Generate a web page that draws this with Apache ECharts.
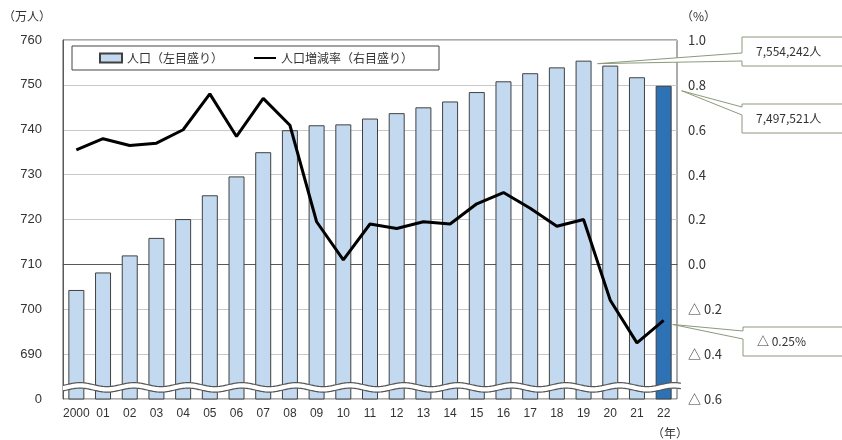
<!DOCTYPE html>
<html>
<head>
<meta charset="utf-8">
<script src="https://cdn.jsdelivr.net/npm/echarts@6/dist/echarts.min.js"></script>
<style>
html, body { margin: 0; padding: 0; background: #fff; }
#main { width: 842px; height: 440px; }
</style>
</head>
<body>
<div id="main"></div>
<script>
// 年（横軸）
const years = ['2000', '01', '02', '03', '04', '05', '06', '07', '08', '09', '10', '11',
  '12', '13', '14', '15', '16', '17', '18', '19', '20', '21', '22']
// 人口（万人・左目盛り）
const population = [704.3, 708.2, 712.0, 715.9, 720.1, 725.4, 729.6, 735.0, 739.9, 741.0,
  741.2, 742.5, 743.7, 745.0, 746.3, 748.4, 750.8, 752.6, 753.9, 755.4, 754.3, 751.7, 749.8]
// 人口増減率（%・右目盛り）
const growthRate = [0.51, 0.56, 0.53, 0.54, 0.60, 0.76, 0.57, 0.74, 0.62, 0.19, 0.02, 0.18,
  0.16, 0.19, 0.18, 0.27, 0.32, 0.25, 0.17, 0.20, -0.16, -0.35, -0.25]
// 吹き出しの文字
const calloutTexts = ['7,554,242人', '7,497,521人', '△ 0.25%']

const lastIndex = years.length - 1
const jpFont = '"Noto Sans CJK JP", sans-serif'

const chart = echarts.init(document.getElementById('main'))

const option = {
  backgroundColor: '#fff',
  animation: false,
  grid: {
    left: 63,
    right: 165,
    top: 40,
    bottom: 41,
    show: true,
    borderColor: '#595959',
    borderWidth: 1
  },
  legend: {
    left: 72,
    top: 46,
    padding: [6, 26, 6, 27],
    itemGap: 30,
    itemWidth: 22,
    itemHeight: 9,
    backgroundColor: '#fff',
    borderColor: '#444',
    borderWidth: 1,
    borderRadius: 0,
    textStyle: { fontFamily: jpFont, fontSize: 12, color: '#333' },
    data: [
      { name: '人口（左目盛り）', icon: 'rect' },
      // 線だけ見せて記号は隠す
      { name: '人口増減率（右目盛り）', itemStyle: { opacity: 0 } }
    ]
  },
  xAxis: {
    type: 'category',
    data: years,
    axisTick: { show: false },
    axisLine: { lineStyle: { color: '#595959' } },
    axisLabel: {
      interval: 0,
      margin: 9,
      fontSize: 12,
      color: '#333',
      fontFamily: '"Liberation Sans", sans-serif'
    }
  },
  yAxis: [
    {
      type: 'value',
      min: 680,
      max: 760,
      interval: 10,
      name: '（万人）',
      nameLocation: 'end',
      nameGap: 18,
      nameTextStyle: { align: 'right', padding: [0, 12, 0, 0], fontFamily: jpFont, fontSize: 12, color: '#333' },
      axisTick: { show: false },
      axisLine: { show: true, lineStyle: { color: '#595959' } },
      splitLine: { lineStyle: { color: '#c8c8c8' } },
      axisLabel: {
        margin: 21,
        fontSize: 13,
        color: '#333',
        fontFamily: '"Liberation Sans", sans-serif',
        // 波線の下は 0
        formatter: v => v === 680 ? '0' : String(v)
      }
    },
    {
      type: 'value',
      min: -0.6,
      max: 1.0,
      interval: 0.2,
      name: '（%）',
      nameLocation: 'end',
      nameGap: 18,
      nameTextStyle: { align: 'left', padding: [0, 0, 0, 4], fontFamily: jpFont, fontSize: 12, color: '#333' },
      axisTick: { show: false },
      axisLine: { show: false },
      splitLine: { show: false },
      axisLabel: {
        margin: 11,
        fontSize: 13,
        color: '#333',
        fontFamily: jpFont,
        formatter: v => {
          if (Math.abs(v) < 1e-9) return '0.0'
          return v < 0 ? '△ ' + Math.abs(v).toFixed(1) : v.toFixed(1)
        }
      }
    }
  ],
  series: [
    {
      name: '人口（左目盛り）',
      type: 'bar',
      barWidth: 16,
      itemStyle: { color: '#c2d9ef', borderColor: '#404040', borderWidth: 1 },
      data: population.map((v, i) => i === lastIndex
        ? { value: v, itemStyle: { color: '#2e72b6' } }
        : v)
    },
    {
      name: '人口増減率（右目盛り）',
      type: 'line',
      yAxisIndex: 1,
      symbol: 'none',
      z: 5,
      lineStyle: { color: '#000', width: 3 },
      itemStyle: { color: '#000' },
      data: growthRate
    }
  ]
}
chart.setOption(option)

// 軸の省略を示す波線
const waveY = chart.convertToPixel({ yAxisIndex: 0 }, 682.6)
const upper = []
const lower = []
for (let x = 63; x <= 681; x += 1) {
  const y = waveY - 2.7 - 2 * Math.cos((x - 80) / 54 * 2 * Math.PI)
  upper.push([x, y])
  lower.push([x, y + 5.5])
}

// 吹き出し（枠 + くさび形の引き出し線）
function callout (tip, box, text) {
  const x = box.x
  const points = [
    [x, box.y], [x + box.w, box.y], [x + box.w, box.y + box.h], [x, box.y + box.h],
    [x, box.wb], tip, [x, box.wa]
  ]
  return [
    {
      type: 'polygon',
      z: 20,
      shape: { points: points },
      style: { fill: '#fff', stroke: '#8c9a7c', lineWidth: 1 }
    },
    {
      type: 'text',
      z: 21,
      x: x + 14,
      y: box.y + box.h / 2,
      style: {
        text: text,
        fill: '#333',
        font: '12px ' + jpFont,
        verticalAlign: 'middle'
      }
    }
  ]
}

const p19 = chart.convertToPixel({ xAxisIndex: 0, yAxisIndex: 0 }, [years[19], population[19]])
const p22 = chart.convertToPixel({ xAxisIndex: 0, yAxisIndex: 0 }, [years[lastIndex], population[lastIndex]])
const r22 = chart.convertToPixel({ xAxisIndex: 0, yAxisIndex: 1 }, [years[lastIndex], growthRate[lastIndex]])

const graphics = [
  {
    type: 'polygon',
    z: 10,
    shape: { points: upper.concat(lower.slice().reverse()) },
    style: { fill: '#fff', stroke: null }
  },
  { type: 'polyline', z: 11, shape: { points: upper }, style: { stroke: '#555', lineWidth: 1.2, fill: null } },
  { type: 'polyline', z: 11, shape: { points: lower }, style: { stroke: '#555', lineWidth: 1.2, fill: null } },
  {
    type: 'text',
    x: 652,
    y: 427,
    style: { text: '（年）', fill: '#333', font: '12px ' + jpFont }
  }
]
  .concat(callout([p19[0] + 14, p19[1] + 3], { x: 742, y: 37, w: 110, h: 29, wa: 53, wb: 61 }, calloutTexts[0]))
  .concat(callout([p22[0] + 18, p22[1] + 5], { x: 742, y: 104, w: 110, h: 29, wa: 107, wb: 115 }, calloutTexts[1]))
  .concat(callout([r22[0] + 9, r22[1] + 4], { x: 743, y: 327, w: 110, h: 29, wa: 331, wb: 339 }, calloutTexts[2]))

chart.setOption({ graphic: graphics })
</script>
</body>
</html>
